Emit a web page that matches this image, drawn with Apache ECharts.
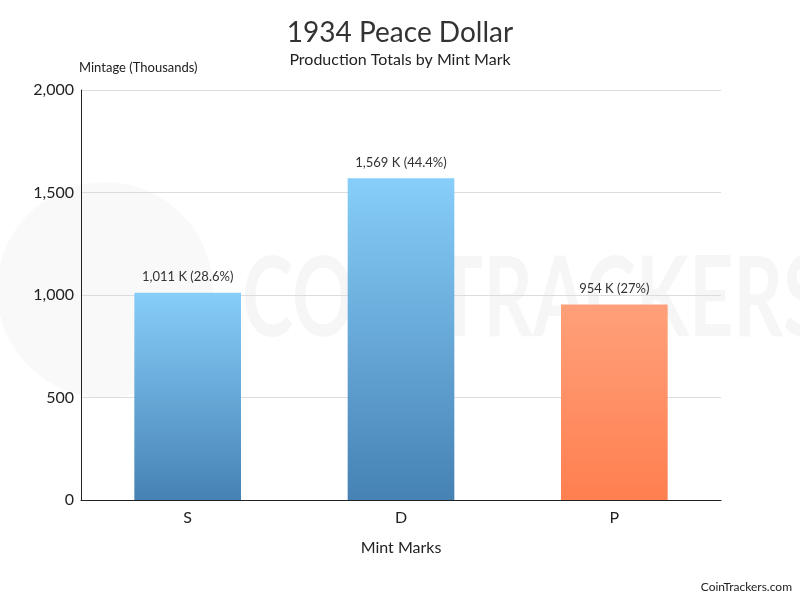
<!DOCTYPE html>
<html>
<head>
<meta charset="utf-8">
<script src="https://cdn.jsdelivr.net/npm/echarts@6/dist/echarts.min.js"></script>
<style>html,body{margin:0;padding:0;background:#fff}#c{width:800px;height:600px}</style>
</head>
<body>
<div id="c"></div>
<script>
const categories = ['S', 'D', 'P'];
const mintage = [1011, 1569, 954];
const percents = [28.6, 44.4, 27];
const yTicks = [0, 500, 1000, 1500, 2000];

const F = 'Lato, "Open Sans", sans-serif';
const blueGrad = new echarts.graphic.LinearGradient(0, 0, 0, 1, [
  {offset: 0, color: '#87CEFA'}, {offset: 1, color: '#4682B4'}]);
const orangeGrad = new echarts.graphic.LinearGradient(0, 0, 0, 1, [
  {offset: 0, color: '#FFA07A'}, {offset: 1, color: '#FF7F50'}]);
const fills = [blueGrad, blueGrad, orangeGrad];

const chart = echarts.init(document.getElementById('c'), null, {renderer: 'canvas'});
chart.setOption({
  backgroundColor: '#fff',
  animation: false,
  title: [
    {text: '1934 Peace Dollar', left: 'center', top: 14,
     textStyle: {fontFamily: F, fontSize: 28, fontWeight: 'normal', color: '#333'}},
    {text: 'Production Totals by Mint Mark', left: 'center', top: 47,
     textStyle: {fontFamily: F, fontSize: 16, fontWeight: 'normal', color: '#222'}}
  ],
  graphic: [
    {type: 'text', x: 242, y: 244, scaleX: 0.69, z: -1, silent: true,
     style: {text: 'COINTRACKERS', fontFamily: F, fontSize: 112, fontWeight: 'bold',
             fill: 'rgba(0,0,0,0.035)'}},
    {type: 'circle', shape: {cx: 105, cy: 290, r: 108}, z: -1, silent: true,
     style: {fill: 'rgba(0,0,0,0.025)'}},
    {type: 'text', right: 8, bottom: 7,
     style: {text: 'CoinTrackers.com', fontFamily: F, fontSize: 12, fill: '#222'}}
  ],
  grid: {left: 81, right: 79, top: 90, bottom: 100, containLabel: false},
  xAxis: {
    type: 'category', data: categories,
    name: 'Mint Marks', nameLocation: 'middle', nameGap: 40,
    nameTextStyle: {fontFamily: F, fontSize: 16, color: '#222'},
    axisLine: {lineStyle: {color: '#222', width: 1}},
    axisTick: {show: false},
    axisLabel: {fontFamily: F, fontSize: 16, color: '#222', margin: 10}
  },
  yAxis: {
    type: 'value', min: yTicks[0], max: yTicks[yTicks.length - 1], interval: 500,
    name: 'Mintage (Thousands)', nameLocation: 'end', nameGap: 16,
    nameTextStyle: {fontFamily: F, fontSize: 13, color: '#222', align: 'left', padding: [0, 0, 0, -2]},
    axisLine: {show: true, lineStyle: {color: '#222', width: 1}},
    axisTick: {show: false},
    splitLine: {lineStyle: {color: '#dcdcdc'}},
    axisLabel: {fontFamily: F, fontSize: 16, color: '#222', margin: 7,
      formatter: v => v.toLocaleString('en-US')}
  },
  series: [{
    type: 'bar', barWidth: '50%',
    data: mintage.map((v, i) => ({value: v, itemStyle: {color: fills[i]}})),
    label: {
      show: true, position: 'top', distance: 9,
      fontFamily: F, fontSize: 13, color: '#333',
      formatter: p => p.value.toLocaleString('en-US') + ' K (' + percents[p.dataIndex] + '%)'
    }
  }]
});
</script>
</body>
</html>
